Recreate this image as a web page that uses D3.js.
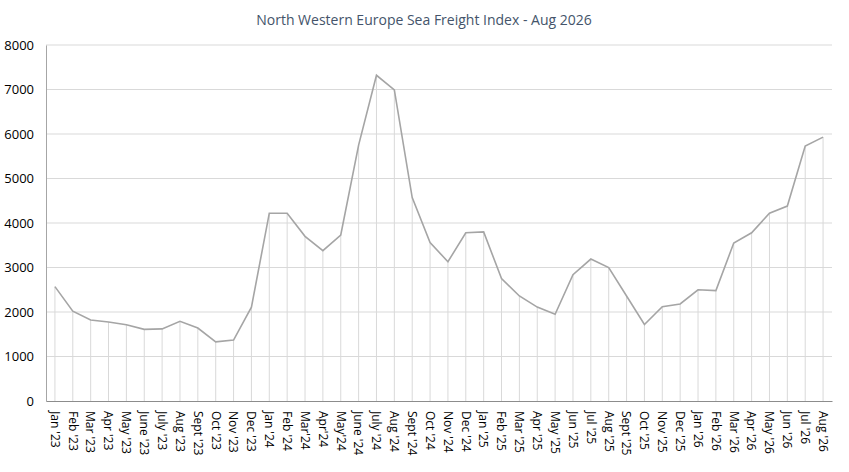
<!DOCTYPE html>
<html>
<head>
<meta charset="utf-8">
<script src="https://cdn.jsdelivr.net/npm/d3@7"></script>
<style>
  body { margin: 0; background: #fff; }
  text { font-family: "Open Sans", "Noto Sans", sans-serif; }
</style>
</head>
<body>
<div id="chart"></div>
<script>
var months = ["Jan '23", "Feb '23", "Mar '23", "Apr '23", "May '23", "June '23", "July '23", "Aug '23",
  "Sept '23", "Oct '23", "Nov '23", "Dec '23", "Jan '24", "Feb '24", "Mar'24", "Apr'24", "May'24",
  "June '24", "July '24", "Aug '24", "Sept '24", "Oct '24", "Nov '24", "Dec '24", "Jan '25", "Feb '25",
  "Mar '25", "Apr '25", "May '25", "Jun '25", "Jul '25", "Aug '25", "Sept '25", "Oct '25", "Nov '25",
  "Dec '25", "Jan '26", "Feb '26", "Mar '26", "Apr '26", "May '26", "Jun '26", "Jul '26", "Aug '26"];

var index = [2570, 2020, 1820, 1775, 1715, 1610, 1620, 1790, 1640, 1330, 1370, 2110,
  4220, 4220, 3700, 3380, 3730, 5750, 7320, 6990, 4570, 3560, 3130, 3780,
  3800, 2750, 2360, 2110, 1950, 2840, 3190, 3000, 2360, 1720, 2120, 2180,
  2500, 2480, 3550, 3780, 4220, 4380, 5730, 5930];

var yTicks = [0, 1000, 2000, 3000, 4000, 5000, 6000, 7000, 8000];

var width = 849, height = 472;
var margin = { top: 45, right: 17, bottom: 71, left: 46 };

var svg = d3.select("#chart").append("svg")
  .attr("width", width)
  .attr("height", height);

svg.append("text")
  .attr("x", 424)
  .attr("y", 25)
  .attr("text-anchor", "middle")
  .attr("fill", "#44546a")
  .style("font-size", "14px")
  .text("North Western Europe Sea Freight Index - Aug 2026");

var x = d3.scaleBand()
  .domain(months)
  .range([margin.left, width - margin.right]);

var y = d3.scaleLinear()
  .domain([0, 8000])
  .range([height - margin.bottom, margin.top]);

// horizontal gridlines
svg.append("g")
  .selectAll("line")
  .data(yTicks.slice(1))
  .enter().append("line")
  .attr("x1", margin.left)
  .attr("x2", width - margin.right)
  .attr("y1", function(d) { return y(d); })
  .attr("y2", function(d) { return y(d); })
  .attr("stroke", "#d9d9d9")
  .attr("stroke-width", 1);

// drop lines
svg.append("g")
  .selectAll("line")
  .data(index)
  .enter().append("line")
  .attr("x1", function(d, i) { return x(months[i]) + x.bandwidth() / 2; })
  .attr("x2", function(d, i) { return x(months[i]) + x.bandwidth() / 2; })
  .attr("y1", function(d) { return y(d); })
  .attr("y2", y(0))
  .attr("stroke", "#d9d9d9")
  .attr("stroke-width", 1);

// y axis
var yAxis = svg.append("g")
  .attr("transform", "translate(" + margin.left + ",0)")
  .call(d3.axisLeft(y).tickValues(yTicks).tickSize(0).tickPadding(12).tickFormat(d3.format("d")));
yAxis.select(".domain").attr("stroke", "#a6a6a6");
yAxis.selectAll("text").style("font-size", "13px").attr("fill", "#000");

// x axis
var xAxis = svg.append("g")
  .attr("transform", "translate(0," + y(0) + ")")
  .call(d3.axisBottom(x).tickSize(0));
xAxis.select(".domain").attr("stroke", "#8c8c8c");
xAxis.selectAll("text")
  .style("font-size", "12px")
  .attr("fill", "#000")
  .attr("text-anchor", "start")
  .attr("dy", "0.35em")
  .attr("transform", "translate(0,10) rotate(90)");
xAxis.selectAll("text").attr("x", 0).attr("y", 0);

// line
var line = d3.line()
  .x(function(d, i) { return x(months[i]) + x.bandwidth() / 2; })
  .y(function(d) { return y(d); });

svg.append("path")
  .datum(index)
  .attr("d", line)
  .attr("fill", "none")
  .attr("stroke", "#a5a5a5")
  .attr("stroke-width", 1.6);
</script>
</body>
</html>
